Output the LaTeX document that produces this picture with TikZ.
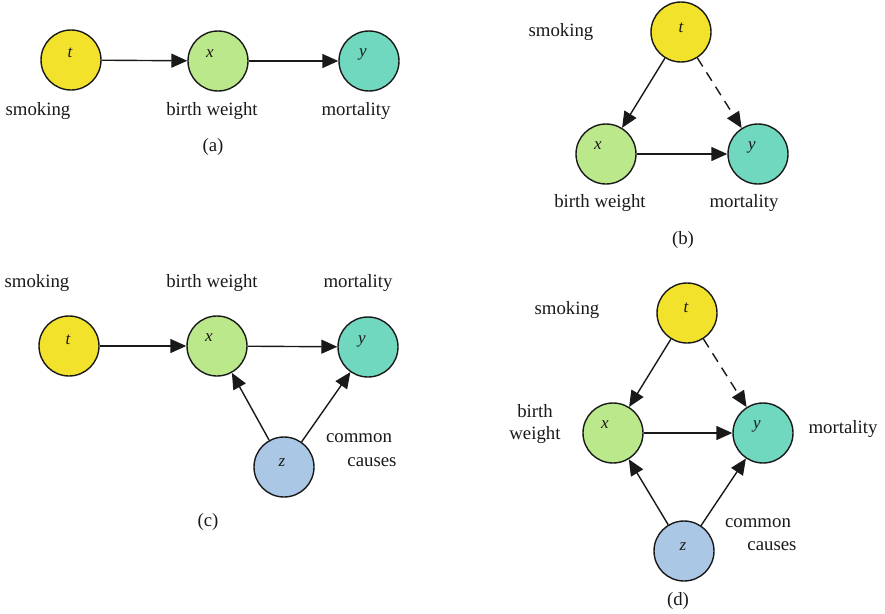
\documentclass[tikz,border=0pt]{standalone}
\usepackage{fontspec}
\setmainfont{Liberation Serif}
\usetikzlibrary{arrows.meta}
\definecolor{cT}{RGB}{242,226,44}
\definecolor{cX}{RGB}{187,232,138}
\definecolor{cY}{RGB}{112,216,190}
\definecolor{cZ}{RGB}{170,199,230}
\definecolor{ink}{RGB}{25,25,25}
\begin{document}
\begin{tikzpicture}[x=1pt,y=-1pt,
  var/.style={circle,draw=ink,line width=1.4pt,minimum size=60pt,inner sep=0pt},
  letter/.style={font=\fontsize{17}{19}\selectfont\itshape,text=ink,inner sep=0pt},
  lab/.style={font=\fontsize{18.8}{21}\selectfont,text=ink,inner sep=0pt,align=center},
  arr/.style={-{Triangle[length=16pt,width=14pt]},line width=1.4pt,draw=ink},
  dasharr/.style={arr,dash pattern=on 10pt off 7pt}]
\useasboundingbox (0,0) rectangle (885,613);
% ---------- (a)
\node[var,fill=cT] (at) at (71,60) {};
\node[var,fill=cX] (ax) at (218,61) {};
\node[var,fill=cY] (ay) at (369,61) {};
\node[letter] (atl) at ([shift={(-1,-7)}]at) {t};
\node[letter] (axl) at ([shift={(-8,-7)}]ax) {x};
\node[letter] (ayl) at ([shift={(-6,-7)}]ay) {y};
\draw[arr] (at) -- (ax);
\draw[arr] (ax) -- (ay);
\node[lab] (asm) at (38,111) {smoking};
\node[lab] (abw) at (212,111) {birth weight};
\node[lab] (amo) at (356,111) {mortality};
\node[lab] (acap) at (213,147) {(a)};
% ---------- (b)
\node[var,fill=cT] (bt) at (681,32) {};
\node[var,fill=cX] (bx) at (606,154) {};
\node[var,fill=cY] (by) at (758,154) {};
\node[letter] (btl) at ([shift={(0,-4)}]bt) {t};
\node[letter] (bxl) at ([shift={(-8,-8)}]bx) {x};
\node[letter] (byl) at ([shift={(-6,-7)}]by) {y};
\draw[arr] (bt) -- (bx);
\draw[dasharr] (bt) -- (by);
\draw[arr] (bx) -- (by);
\node[lab] (bsm) at (561,32) {smoking};
\node[lab] (bbw) at (600,203) {birth weight};
\node[lab] (bmo) at (744,203) {mortality};
\node[lab] (bcap) at (683,240) {(b)};
% ---------- (c)
\node[var,fill=cT] (ct) at (69,346) {};
\node[var,fill=cX] (cx) at (217,346) {};
\node[var,fill=cY] (cy) at (368,347) {};
\node[var,fill=cZ] (cz) at (284,467) {};
\node[letter] (ctl) at ([shift={(-1,-6)}]ct) {t};
\node[letter] (cxl) at ([shift={(-8,-8)}]cx) {x};
\node[letter] (cyl) at ([shift={(-6,-6)}]cy) {y};
\node[letter] (czl) at ([shift={(-2,-4)}]cz) {z};
\draw[arr] (ct) -- (cx);
\draw[arr] (cx) -- (cy);
\draw[arr] (cz) -- (cx);
\draw[arr] (cz) -- (cy);
\node[lab] (csm) at (37,283) {smoking};
\node[lab] (cbw) at (212,283) {birth weight};
\node[lab] (cmo) at (358,283) {mortality};
\node[lab] (ccm) at (359,438) {common};
\node[lab] (cca) at (372,462) {causes};
\node[lab] (ccap) at (208,522) {(c)};
% ---------- (d)
\node[var,fill=cT] (dt) at (687,313) {};
\node[var,fill=cX] (dx) at (613,433) {};
\node[var,fill=cY] (dy) at (763,433) {};
\node[var,fill=cZ] (dz) at (684,551) {};
\node[letter] (dtl) at ([shift={(-1,-5)}]dt) {t};
\node[letter] (dxl) at ([shift={(-8,-8)}]dx) {x};
\node[letter] (dyl) at ([shift={(-6,-7)}]dy) {y};
\node[letter] (dzl) at ([shift={(-1,-4)}]dz) {z};
\draw[arr] (dt) -- (dx);
\draw[dasharr] (dt) -- (dy);
\draw[arr] (dx) -- (dy);
\draw[arr] (dz) -- (dx);
\draw[arr] (dz) -- (dy);
\node[lab] (dsm) at (567,310) {smoking};
\node[lab] (dbw) at (535,424) {birth\\[1pt]weight};
\node[lab] (dmo) at (843,429) {mortality};
\node[lab] (dcm) at (758,523) {common};
\node[lab] (dca) at (772,546) {causes};
\node[lab] (dcap) at (678,601) {(d)};
\end{tikzpicture}
\end{document}
